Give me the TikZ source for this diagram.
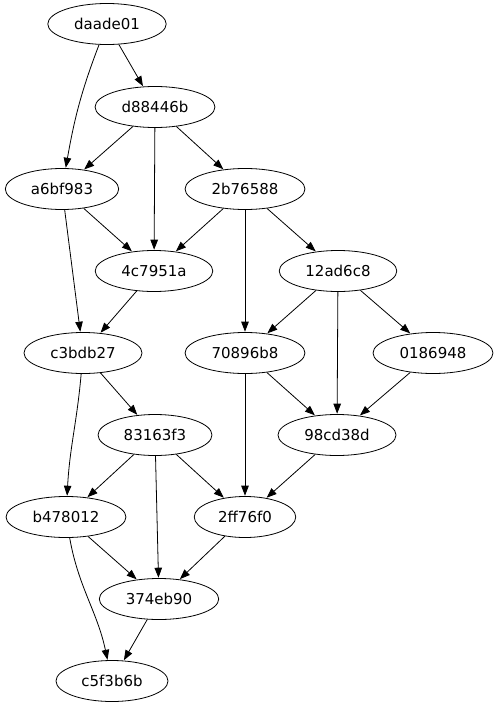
\documentclass[tikz,border=0pt]{standalone}
\usepackage{fontspec}
\setmainfont{DejaVu Sans}
\usetikzlibrary{shapes.geometric,arrows.meta}

\tikzset{
  commit/.style={draw, ellipse, line width=0.8pt, inner xsep=9pt, inner ysep=0pt,
    minimum height=41pt, font=\fontsize{15}{18}\selectfont},
  parent/.style={-{Triangle[length=10pt,width=7.5pt]}, line width=0.8pt, shorten >=0.4pt}
}

\begin{document}
\begin{tikzpicture}[x=1pt,y=1pt]
  \useasboundingbox (0,0) rectangle (500,-707);
  % commits, top to bottom
  \node[commit] (daade01) at (107,-24) {daade01};
  \node[commit] (d88446b) at (155,-107) {d88446b};
  \node[commit] (a6bf983) at (62,-189) {a6bf983};
  \node[commit] (2b76588) at (245,-189) {2b76588};
  \node[commit] (4c7951a) at (154,-271) {4c7951a};
  \node[commit] (12ad6c8) at (338,-271) {12ad6c8};
  \node[commit] (c3bdb27) at (83,-353) {c3bdb27};
  \node[commit] (70896b8) at (245,-353) {70896b8};
  \node[commit] (0186948) at (433,-353) {0186948};
  \node[commit] (83163f3) at (155,-435) {83163f3};
  \node[commit] (98cd38d) at (337,-435) {98cd38d};
  \node[commit] (b478012) at (66,-517) {b478012};
  \node[commit] (2ff76f0) at (245,-517) {2ff76f0};
  \node[commit] (374eb90) at (159,-599) {374eb90};
  \node[commit] (c5f3b6b) at (112,-681) {c5f3b6b};

  % edges
  \draw[parent] (daade01) -- (d88446b);
  \draw[parent] (daade01) to[out=-111,in=80] (a6bf983);
  \draw[parent] (d88446b) -- (a6bf983);
  \draw[parent] (d88446b) -- (2b76588);
  \draw[parent] (d88446b) -- (4c7951a);
  \draw[parent] (a6bf983) -- (4c7951a);
  \draw[parent] (2b76588) -- (4c7951a);
  \draw[parent] (2b76588) -- (12ad6c8);
  \draw[parent] (2b76588) -- (70896b8);
  \draw[parent] (a6bf983) -- (c3bdb27);
  \draw[parent] (4c7951a) -- (c3bdb27);
  \draw[parent] (12ad6c8) -- (70896b8);
  \draw[parent] (12ad6c8) -- (0186948);
  \draw[parent] (12ad6c8) -- (98cd38d);
  \draw[parent] (c3bdb27) -- (83163f3);
  \draw[parent] (c3bdb27) to[out=-95,in=87] (b478012);
  \draw[parent] (70896b8) -- (98cd38d);
  \draw[parent] (0186948) -- (98cd38d);
  \draw[parent] (70896b8) -- (2ff76f0);
  \draw[parent] (98cd38d) -- (2ff76f0);
  \draw[parent] (83163f3) -- (b478012);
  \draw[parent] (83163f3) -- (2ff76f0);
  \draw[parent] (83163f3) -- (374eb90);
  \draw[parent] (b478012) -- (374eb90);
  \draw[parent] (2ff76f0) -- (374eb90);
  \draw[parent] (b478012) to[out=-80,in=102] (c5f3b6b);
  \draw[parent] (374eb90) -- (c5f3b6b);
\end{tikzpicture}
\end{document}
